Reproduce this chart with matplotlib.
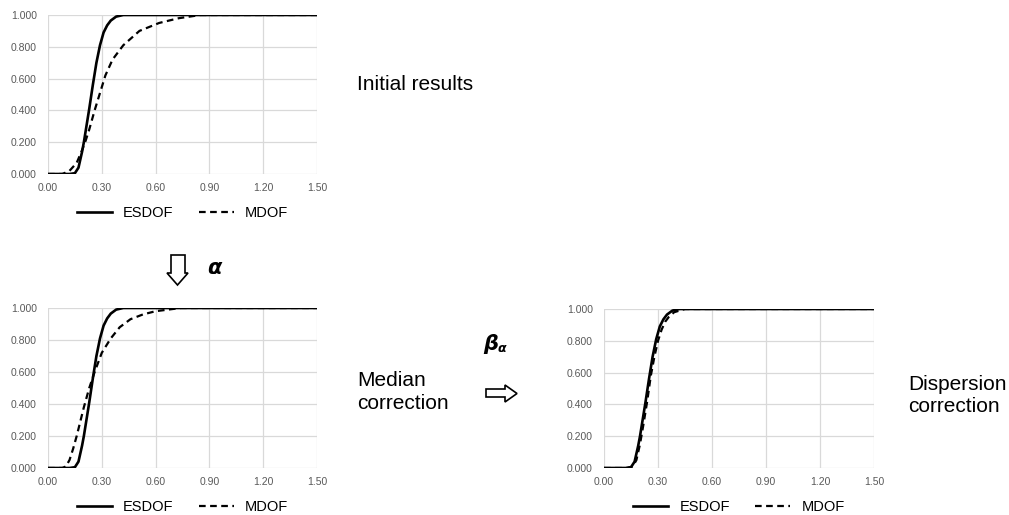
import matplotlib
matplotlib.use("Agg")
import matplotlib.pyplot as plt
from matplotlib.patches import Polygon

# (CDF)
x_ticks = [0.00, 0.30, 0.60, 0.90, 1.20, 1.50]
y_ticks = [0.0, 0.2, 0.4, 0.6, 0.8, 1.0]

esdof_x = [0.00, 0.12, 0.15, 0.17, 0.19, 0.20, 0.21, 0.23, 0.25, 0.27, 0.29, 0.31, 0.33, 0.35, 0.38, 0.42, 1.50]
esdof_y = [0.00, 0.00, 0.005, 0.04, 0.14, 0.20, 0.27, 0.41, 0.56, 0.70, 0.81, 0.89, 0.935, 0.965, 0.99, 1.00, 1.00]

mdof_init_x = [0.00, 0.08, 0.12, 0.16, 0.19, 0.21, 0.23, 0.26, 0.29, 0.32, 0.36, 0.42, 0.51, 0.62, 0.73, 0.85, 1.50]
mdof_init_y = [0.00, 0.00, 0.02, 0.07, 0.15, 0.21, 0.28, 0.40, 0.51, 0.62, 0.72, 0.81, 0.90, 0.95, 0.98, 1.00, 1.00]

mdof_med_x = [0.00, 0.08, 0.10, 0.12, 0.14, 0.16, 0.18, 0.20, 0.23, 0.26, 0.30, 0.35, 0.40, 0.46, 0.53, 0.60, 0.74, 1.50]
mdof_med_y = [0.00, 0.00, 0.01, 0.05, 0.12, 0.20, 0.29, 0.38, 0.50, 0.60, 0.72, 0.81, 0.88, 0.93, 0.96, 0.98, 1.00, 1.00]

mdof_disp_x = [0.00, 0.13, 0.16, 0.18, 0.20, 0.22, 0.24, 0.26, 0.28, 0.30, 0.32, 0.34, 0.36, 0.39, 0.45, 1.50]
mdof_disp_y = [0.00, 0.00, 0.01, 0.05, 0.15, 0.28, 0.42, 0.58, 0.70, 0.80, 0.87, 0.92, 0.95, 0.98, 1.00, 1.00]

W, H = 1009, 515
fig = plt.figure(figsize=(W / 100, H / 100), dpi=100)

TICK_FONT = "Liberation Sans"
TEXT_FONT = "Liberation Sans"


def px_axes(x0, x1, y0, y1):
    # prostokat w pikselach -> wspolrzedne figury
    return [x0 / W, 1 - y1 / H, (x1 - x0) / W, (y1 - y0) / H]


def cdf_panel(rect, mdof_x, mdof_y):
    ax = fig.add_axes(rect)
    ax.plot(esdof_x, esdof_y, color="black", lw=1.9, label="ESDOF", zorder=3)
    ax.plot(mdof_x, mdof_y, color="black", lw=1.6, ls=(0, (3, 2)), label="MDOF", zorder=3)
    ax.set_xlim(0, 1.5)
    ax.set_ylim(0, 1.0)
    ax.set_xticks(x_ticks)
    ax.set_yticks(y_ticks)
    ax.set_xticklabels([f"{v:.2f}" for v in x_ticks])
    ax.set_yticklabels([f"{v:.3f}" for v in y_ticks])
    ax.grid(True, color="#d9d9d9", lw=0.9)
    ax.set_axisbelow(True)
    for s in ax.spines.values():
        s.set_visible(False)
    ax.tick_params(length=0, labelsize=7.5, labelcolor="#595959")
    ax.tick_params(axis="x", pad=6.5)
    ax.tick_params(axis="y", pad=8)
    for lab in ax.get_xticklabels() + ax.get_yticklabels():
        lab.set_family(TICK_FONT)
    ax.legend(loc="center", bbox_to_anchor=(0.5, -0.245), ncol=2, frameon=False,
              handlelength=2.4, handletextpad=0.8, columnspacing=1.7,
              prop={"family": TEXT_FONT, "size": 10.5})
    return ax


cdf_panel(px_axes(48, 317, 15, 174), mdof_init_x, mdof_init_y)
cdf_panel(px_axes(48, 317, 308, 468), mdof_med_x, mdof_med_y)
cdf_panel(px_axes(604, 874, 309, 468), mdof_disp_x, mdof_disp_y)

# warstwa z opisami i strzalkami (w pikselach)
ov = fig.add_axes([0, 0, 1, 1], facecolor="none")
ov.set_xlim(0, W)
ov.set_ylim(H, 0)
ov.axis("off")

ov.text(357, 84, "Initial results", fontsize=15, family=TEXT_FONT, va="center", ha="left")
ov.text(357, 392, "Median\ncorrection", fontsize=15, family=TEXT_FONT, va="center", ha="left",
        linespacing=1.25)
ov.text(908, 395.5, "Dispersion\ncorrection", fontsize=15, family=TEXT_FONT, va="center", ha="left",
        linespacing=1.25)

down = [(171, 255), (185, 255), (185, 273), (188, 273), (177.5, 285), (167, 273), (171, 273)]
ov.add_patch(Polygon(down, closed=True, facecolor="white", edgecolor="black", lw=1.2))
ov.text(207, 268, "α", fontsize=15, fontweight="bold", fontstyle="italic",
        va="center", ha="left")

right = [(486, 389), (505, 389), (505, 385), (517, 393.5), (505, 402), (505, 397), (486, 397)]
ov.add_patch(Polygon(right, closed=True, facecolor="white", edgecolor="black", lw=1.2))
ov.text(483, 344, "β", fontsize=15, fontweight="bold", fontstyle="italic",
        va="center", ha="left")
ov.text(498, 349, "α", fontsize=9, fontweight="bold", fontstyle="italic",
        va="center", ha="left")

fig.savefig("out.png", dpi=100)
